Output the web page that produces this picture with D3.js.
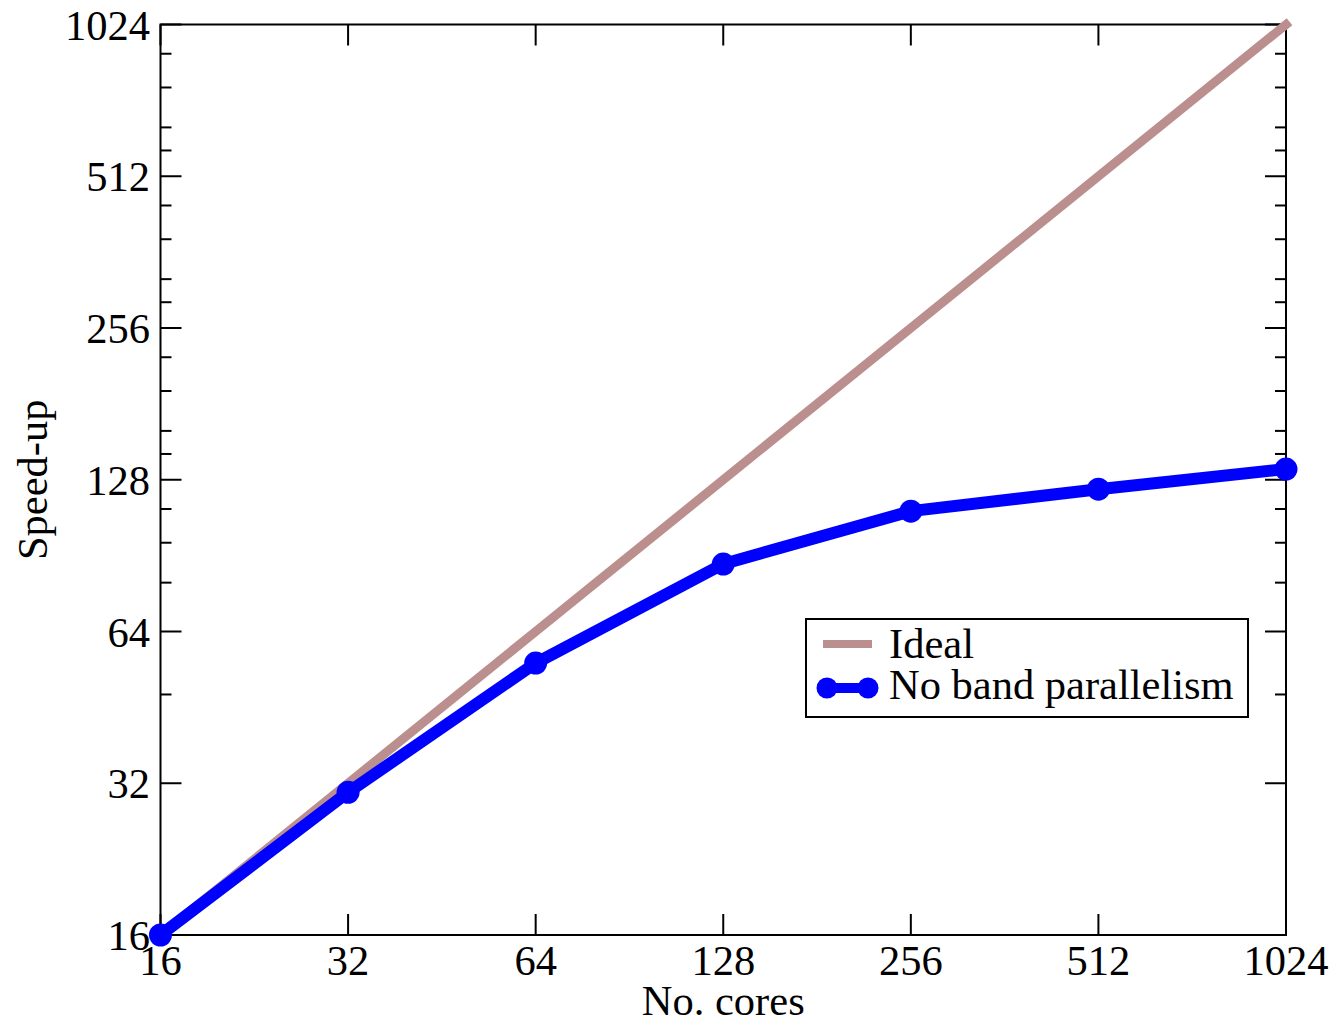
<!DOCTYPE html>
<html>
<head>
<meta charset="utf-8">
<script src="https://cdn.jsdelivr.net/npm/d3@7"></script>
<style>
  body { margin: 0; background: white; }
  text { font-family: "Liberation Serif", "Times New Roman", serif; fill: black; }
</style>
</head>
<body>
<div id="chart-container"></div>
<script>
// chart data

cores = [16, 32, 64, 128, 256, 512, 1024];
ideal = [16, 32, 64, 128, 256, 512, 1024];
no_band = [16, 30.7, 55.4, 87.1, 110.9, 122.6, 134.4];

tick_values = [16, 32, 64, 128, 256, 512, 1024];
y_minor_ticks = [48, 80, 96, 112, 144, 160, 192, 224, 288, 320, 384, 448, 576, 640, 768, 896];

series_names = ["Ideal", "No band parallelism"];
series_colors = ["#bc8f8f", "#0000ff"];

width = 1336;
height = 1021;

const plot_left = 160.5, plot_right = 1286, plot_top = 24.5, plot_bottom = 935;
const font_size = 42.5;

svg = d3.select("#chart-container")
    .append("svg")
    .attr("width", width)
    .attr("height", height)
    .style("background", "white");

x = d3.scaleLog().base(2).domain([16, 1024]).range([plot_left, plot_right]);
y = d3.scaleLog().base(2).domain([16, 1024]).range([plot_bottom, plot_top]);

// ticks on all four sides, pointing inward
const major_len = 21, minor_len = 11;
var tick_group = svg.append("g").attr("stroke", "black").attr("stroke-width", 2);

tick_group.append("g").selectAll("line")
    .data(tick_values)
    .join("line")
    .attr("x1", d => x(d)).attr("x2", d => x(d))
    .attr("y1", plot_bottom).attr("y2", plot_bottom - major_len);
tick_group.append("g").selectAll("line")
    .data(tick_values)
    .join("line")
    .attr("x1", d => x(d)).attr("x2", d => x(d))
    .attr("y1", plot_top).attr("y2", plot_top + major_len);

[[plot_left, 1], [plot_right, -1]].forEach(([xx, dir]) => {
    tick_group.append("g").selectAll("line")
	.data(tick_values)
	.join("line")
	.attr("x1", xx).attr("x2", xx + dir * major_len)
	.attr("y1", d => y(d)).attr("y2", d => y(d));
    tick_group.append("g").selectAll("line")
	.data(y_minor_ticks)
	.join("line")
	.attr("x1", xx).attr("x2", xx + dir * minor_len)
	.attr("y1", d => y(d)).attr("y2", d => y(d));
});

// frame
svg.append("rect")
    .attr("x", plot_left).attr("y", plot_top)
    .attr("width", plot_right - plot_left).attr("height", plot_bottom - plot_top)
    .attr("fill", "none")
    .attr("stroke", "black")
    .attr("stroke-width", 2);

// tick labels
svg.append("g").selectAll("text")
    .data(tick_values)
    .join("text")
    .attr("x", d => x(d))
    .attr("y", 975)
    .attr("text-anchor", "middle")
    .attr("font-size", font_size)
    .text(d => d);

svg.append("g").selectAll("text")
    .data(tick_values)
    .join("text")
    .attr("x", 150)
    .attr("y", d => y(d) + 15)
    .attr("text-anchor", "end")
    .attr("font-size", font_size)
    .text(d => d);

// axis titles
svg.append("text")
    .attr("x", (plot_left + plot_right) / 2)
    .attr("y", 1015)
    .attr("text-anchor", "middle")
    .attr("font-size", font_size)
    .text("No. cores");

svg.append("text")
    .attr("transform", `translate(47, ${(plot_top + plot_bottom) / 2}) rotate(-90)`)
    .attr("text-anchor", "middle")
    .attr("font-size", font_size)
    .text("Speed-up");

// lines
line = d3.line().x(d => x(d[0])).y(d => y(d[1]));

svg.append("path")
    .datum(d3.zip(cores, ideal))
    .attr("d", line)
    .attr("fill", "none")
    .attr("stroke", series_colors[0])
    .attr("stroke-width", 9)
    .attr("stroke-linecap", "square");

svg.append("path")
    .datum(d3.zip(cores, no_band))
    .attr("d", line)
    .attr("fill", "none")
    .attr("stroke", series_colors[1])
    .attr("stroke-width", 12)
    .attr("stroke-linejoin", "round");

svg.append("g").selectAll("circle")
    .data(d3.zip(cores, no_band))
    .join("circle")
    .attr("cx", d => x(d[0]))
    .attr("cy", d => y(d[1]))
    .attr("r", 11.5)
    .attr("fill", series_colors[1]);

// legend
var legend = svg.append("g");
legend.append("rect")
    .attr("x", 806).attr("y", 619)
    .attr("width", 442).attr("height", 98)
    .attr("fill", "white")
    .attr("stroke", "black")
    .attr("stroke-width", 2);

legend.append("line")
    .attr("x1", 823).attr("x2", 872)
    .attr("y1", 644).attr("y2", 644)
    .attr("stroke", series_colors[0])
    .attr("stroke-width", 8);

legend.append("line")
    .attr("x1", 827).attr("x2", 868)
    .attr("y1", 688).attr("y2", 688)
    .attr("stroke", series_colors[1])
    .attr("stroke-width", 10);
legend.selectAll("circle")
    .data([827, 868])
    .join("circle")
    .attr("cx", d => d).attr("cy", 688)
    .attr("r", 10.5)
    .attr("fill", series_colors[1]);

legend.selectAll("text")
    .data(series_names)
    .join("text")
    .attr("x", 889)
    .attr("y", (d, i) => 658 + i * 41)
    .attr("font-size", font_size)
    .text(d => d);
</script>
</body>
</html>
